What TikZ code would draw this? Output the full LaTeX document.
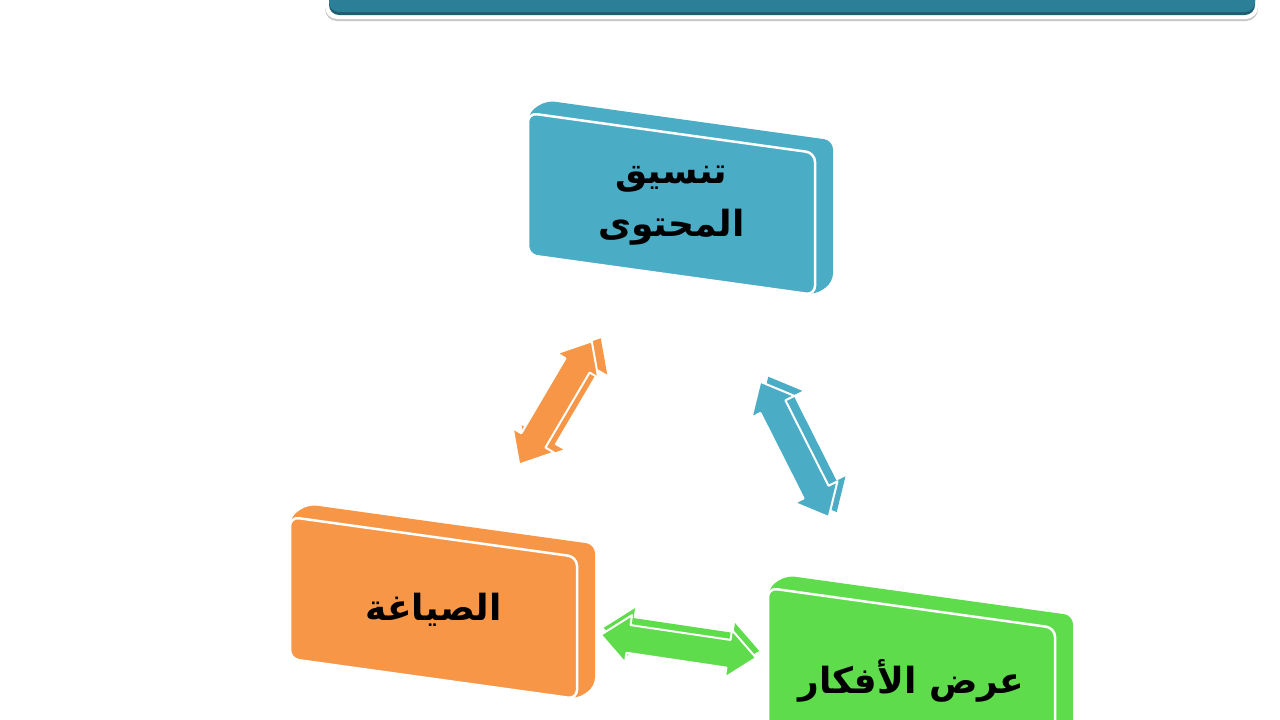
\documentclass[tikz,border=0pt]{standalone}
\usepackage{fontspec}
\usepackage{tikz}
\usetikzlibrary{calc}
\newfontfamily\arabicfont[Script=Arabic]{DejaVu Sans}
\TeXXeTstate=1
\definecolor{tealbar}{HTML}{2B7F96}
\definecolor{tealdark}{HTML}{1F5E70}
\definecolor{aquabox}{HTML}{4BACC6}
\definecolor{orangebox}{HTML}{F79646}
\definecolor{greenbox}{HTML}{5EDC4B}
\tikzstyle{boxtext} = [align=center, text=black, font=\arabicfont\bfseries\fontsize{36}{53}\selectfont]
\tikzstyle{face} = [draw=white, line width=2.5pt, rounded corners=9pt]
\tikzstyle{arrowface} = [draw=white, line width=2pt, line join=round]

% a slanted slab: name, top left corner, colour, text
\newcommand{\slab}[4]{%
  \begin{scope}[shift={#2}, yslant=-0.139]
    \fill[#3, rounded corners=9pt] (0,0) -- (18,-15) -- (305,-15) -- (305,127) -- (287,142) -- (0,142) -- cycle;
    \filldraw[face, fill=#3] (0,0) rectangle (287,142);
    \node[boxtext] (#1) at (143.5,73) {#4};
  \end{scope}}

\newcommand{\arrowpath}[2]{(#1)
  -- ($(#1)+(\arrang:28pt)+(\arrang+90:24pt)$) -- ($(#1)+(\arrang:28pt)+(\arrang+90:14pt)$)
  -- ($(#2)+(\arrang+180:28pt)+(\arrang+90:14pt)$) -- ($(#2)+(\arrang+180:28pt)+(\arrang+90:24pt)$)
  -- (#2)
  -- ($(#2)+(\arrang+180:28pt)+(\arrang-90:24pt)$) -- ($(#2)+(\arrang+180:28pt)+(\arrang-90:14pt)$)
  -- ($(#1)+(\arrang:28pt)+(\arrang-90:14pt)$) -- ($(#1)+(\arrang:28pt)+(\arrang-90:24pt)$) -- cycle}

% a double arrow with depth: from, to, colour, depth
\newcommand{\fatarrow}[4]{%
  \pgfmathanglebetweenpoints{\pgfpointanchor{#1}{center}}{\pgfpointanchor{#2}{center}}%
  \let\arrang\pgfmathresult
  \fill[#3, transform canvas={shift={#4}}] \arrowpath{#1}{#2};
  \filldraw[arrowface, fill=#3] \arrowpath{#1}{#2};}

\begin{document}
\begin{tikzpicture}[x=1pt, y=-1pt]
    \path[use as bounding box, fill=white] (0,0) rectangle (1280,720);
    \clip (0,0) rectangle (1280,720);
    % title bar
    \fill[black!22, rounded corners=12pt] (325,-20) rectangle (1258,21);
    \fill[white, rounded corners=12pt] (325,-20) rectangle (1258,19);
    \fill[tealdark, rounded corners=10pt] (329,-20) rectangle (1255,15);
    \fill[tealbar, rounded corners=10pt] (329,-20) rectangle (1255,12);
    % boxes
    \slab{content}{(528,113)}{aquabox}{\beginR تنسيق\endR\\\beginR المحتوى\endR}
    \slab{wording}{(290,517)}{orangebox}{\beginR الصياغة\endR}
    \slab{ideas}{(768,588)}{greenbox}{\beginR عرض الأفكار\endR}
    % arrows
    \coordinate (wc1) at ($(wording)!0.36!(content)$);
    \coordinate (wc2) at ($(wording)!0.665!(content)$);
    \coordinate (ci1) at ($(content)!0.37!(ideas)$);
    \coordinate (ci2) at ($(content)!0.655!(ideas)$);
    \coordinate (wi1) at ($(wording)!0.35!(ideas)$);
    \coordinate (wi2) at ($(wording)!0.675!(ideas)$);
    \fatarrow{wc1}{wc2}{orangebox}{(9pt,3pt)}
    \fatarrow{ci1}{ci2}{aquabox}{(8pt,5pt)}
    \fatarrow{wi1}{wi2}{greenbox}{(3pt,7pt)}
\end{tikzpicture}
\end{document}
